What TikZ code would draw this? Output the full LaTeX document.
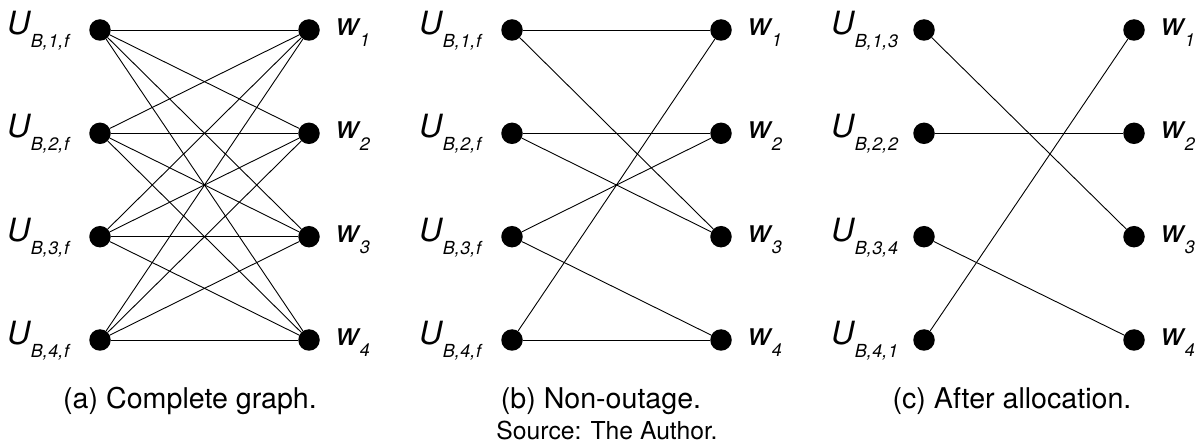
\documentclass[tikz,border=0pt]{standalone}
\usepackage{fontspec}
\setmainfont{TeX Gyre Heros}
\begin{document}
\begin{tikzpicture}[x=1pt,y=-1pt,
  dot/.style={circle,fill=black,inner sep=0pt,minimum size=21.5pt},
  edge/.style={line width=0.9pt},
  lab/.style={inner sep=0pt,anchor=base west},
  captext/.style={inner sep=0pt,anchor=base,font=\fontsize{28.6}{34}\selectfont},
  srctext/.style={inner sep=0pt,anchor=base,font=\fontsize{24.7}{30}\selectfont}]
\useasboundingbox (0,0) rectangle (1200,446);
\newcommand{\cm}{,\kern0.6pt}
\newcommand{\ulab}[3]{{\fontsize{32}{32}\selectfont\itshape U}\hspace{0.5pt}\raisebox{-13pt}{\fontsize{18}{18}\selectfont\itshape #1\cm#2\cm#3}}
\newcommand{\wlab}[1]{{\fontsize{32}{32}\selectfont\itshape w}\hspace{0.5pt}\raisebox{-11.5pt}{\fontsize{18}{18}\selectfont\itshape #1}}
\foreach \p/\lx/\rx in {a/100/309,b/512/721,c/924/1134}{
  \foreach \i/\yy in {1/30,2/133.3,3/236.7,4/340}{
    \node[dot] (\p L\i) at (\lx,\yy) {};
    \node[dot] (\p R\i) at (\rx,\yy) {};
    \node[lab] (\p W\i) at (\rx+27,\yy+5.5) {\wlab{\i}};
  }
}
\foreach \i/\yy in {1/30,2/133.3,3/236.7,4/340}{
  \node[lab] (aU\i) at (7,\yy+4.5) {\ulab{B}{\i}{f}};
  \node[lab] (bU\i) at (419,\yy+4.5) {\ulab{B}{\i}{f}};
}
\node[lab] (cU1) at (831,34.5) {\ulab{B}{1}{3}};
\node[lab] (cU2) at (831,137.8) {\ulab{B}{2}{2}};
\node[lab] (cU3) at (831,241.2) {\ulab{B}{3}{4}};
\node[lab] (cU4) at (831,344.5) {\ulab{B}{4}{1}};
% (a) complete
\foreach \i in {1,2,3,4}{
  \foreach \j in {1,2,3,4}{
    \draw[edge] (aL\i) -- (aR\j);
  }
}
% (b) non-outage
\foreach \i/\j in {1/1,1/3,2/2,2/3,3/2,3/4,4/1,4/4}{
  \draw[edge] (bL\i) -- (bR\j);
}
% (c) after allocation
\foreach \i/\j in {1/3,2/2,3/4,4/1}{
  \draw[edge] (cL\i) -- (cR\j);
}
\node[captext] (capa) at (190,408) {(a) Complete graph.};
\node[captext] (capb) at (601,408) {(b) Non-outage.};
\node[captext] (capc) at (1012,408) {(c) After allocation.};
\node[srctext] (source) at (607,439) {Source: The Author.};
\end{tikzpicture}
\end{document}
